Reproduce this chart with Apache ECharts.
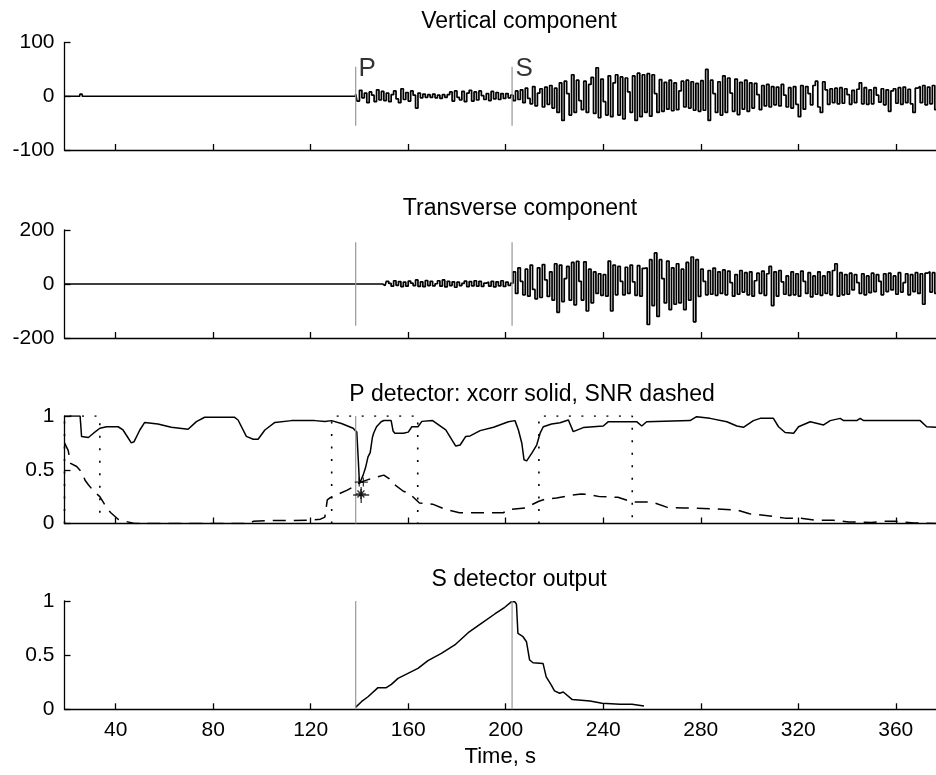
<!DOCTYPE html>
<html><head><meta charset="utf-8">
<script src="https://cdn.jsdelivr.net/npm/echarts/dist/echarts.min.js"></script>
<style>html,body{margin:0;padding:0;background:#fff}#c{width:936px;height:775px}</style>
</head><body><div id="c"></div>
<script>
// ---------- shared axis values ----------
const timeMin = 19, timeMax = 376.5;
const xTickValues = [40, 80, 120, 160, 200, 240, 280, 320, 360];
const pPickTime = 138.45, sPickTime = 202.6;

// ---------- seismogram samples (1 s) ----------
const waveStart = 138.5, waveStep = 1.0;
const vertQuietTimes = [19, 25.2, 25.5, 26.2, 26.5, 138.4];
const vertQuietValues = [0, 0, 4, 4, 0, 0];
const vertValues = [
  4, -9, 11, -3, 6, -12, 8, 2, -10, 12,
  -7, 9, -8, 6, -10, 3, 10, -5, -12, 14,
  -6, 7, -9, 10, 2, -22, 6, -3, 4, -2,
  3, -2, 4, -3, 2, -4, 3, -2, 3, 8,
  -9, 10, -2, -7, 9, -10, 6, 11, -9, 8,
  -7, 10, 1, -6, 5, -8, 9, -5, 7, -6,
  5, -4, 5, -3, 2, -8, 10, -6, 12, -12,
  15, -4, -14, 18, -18, 6, 14, -20, 17, -15,
  20, -22, 15, -30, 25, -45, 28, 5, -35, 40,
  -30, 30, -8, -25, 28, -30, 22, 35, -32, 53,
  -40, 32, -10, -35, 38, -38, 25, 40, -35, 36,
  -42, 34, 8, -30, 38, -45, 43, -38, 40, -30,
  42, -37, 40, 5, -30, 31, -28, 26, -24, 30,
  -27, 25, -25, 10, 28, -20, 30, -22, 27, -26,
  24, -28, 29, -26, 50, -45, 30, 5, -30, 27,
  -35, 38, -30, 34, 6, -28, 32, -34, 26, -24,
  30, -28, 25, -22, 24, 3, -25, 20, -18, 22,
  -20, 18, -16, 17, -18, 22, 2, -20, 16, -22,
  18, -15, -38, 20, -24, 18, 5, -16, 20, 28,
  -20, -30, 27, 12, -15, 14, -12, 15, -14, 16,
  -13, 14, 3, -15, 11, -12, 13, 25, -14, 16,
  -15, 12, -14, 16, 2, -11, 14, -16, 12, -28,
  10, 14, -13, 16, -15, 17, -12, 13, -14, -30,
  15, 18, -12, 20, -16, 17, -14, 20, -25
];
const transQuietTimes = [19, 138.4];
const transQuietValues = [0, 0];
const transValues = [
  0, 0, 0, 0, 0, 0, 0, 0, 0, 0,
  0, 0, -6, 10, 2, -8, 12, -5, 9, -10,
  7, -8, 11, 3, -6, 15, -9, 8, -10, 13,
  -6, 10, -7, 1, 12, -8, 15, -11, 10, -6,
  8, -12, 7, -6, 2, 11, -10, 9, -7, 12,
  -8, 10, -9, 3, 7, -8, 10, -11, 8, -7,
  12, -9, 7, -5, 3, 45, -35, 60, 10, -40,
  55, -45, 70, -20, -55, 60, -50, 72, 15, -46,
  45, -60, 75, -105, 70, -65, 20, 65, -60, 80,
  -77, 84, 10, -60, 82, -100, 55, -70, 45, -35,
  38, -42, 35, -45, 85, -100, 70, -40, 65, 10,
  -40, 62, -35, 70, 8, -42, 68, -45, 58, 60,
  -150, 90, -80, 115, -120, 90, 20, -70, 85, -95,
  60, -75, 75, -70, 55, -95, 80, -60, 100, -140,
  90, -46, 55, 10, -40, 50, -38, 59, -42, 45,
  -35, 52, -40, 48, 5, -45, 35, -38, 50, -30,
  42, -40, 45, -45, 12, 40, -35, 48, -42, 38,
  65, -80, 45, -45, 50, 8, -38, 30, -42, 45,
  -40, 38, -45, 48, 10, -35, 42, -48, 30, -38,
  45, -42, 30, -35, 45, -40, 50, 75, -45, 42,
  -40, 35, -38, 40, -22, 35, 5, -35, 38, -40,
  30, -32, 40, -28, 35, 10, -40, 38, -28, 40,
  -22, 30, -38, 42, -30, 5, 38, -40, 35, -28,
  42, -35, 38, -75, 40, 45, -30, 42, -35
];

// ---------- P detector ----------
const xcorrTimes = [19, 25.4, 26, 28.8, 30.9, 33.5, 36.3, 41, 43, 45, 46.4, 47.5, 49.9, 51.9, 57.3, 62.8, 69.7, 73.1, 76.5, 88.8, 90.2, 93.6, 96.4, 98.4, 101.2, 105.3, 112.1, 121.7, 125.8, 128.5, 132.6, 137.4, 138.9, 139.5, 140.0, 140.8, 141.5, 142.5, 143.5, 144.4, 145.3, 145.8, 147, 148.9, 150, 153, 153.8, 154.5, 158, 160, 161.5, 164, 165.6, 170, 175.4, 179.5, 181.3, 183.6, 185.4, 189.5, 195, 201.1, 203.8, 205.2, 206.6, 207.5, 208.6, 210.7, 212.7, 214.1, 215.4, 218.8, 222.3, 225.7, 227.7, 231.8, 240, 242.1, 253.7, 255.8, 257.8, 275.6, 278.3, 283.8, 290.7, 294.8, 297.5, 301.6, 304.4, 309.8, 311.9, 314.6, 318.1, 320.1, 324.9, 330.4, 333.1, 337.2, 338.6, 344, 345.4, 346.8, 370, 372.7, 376.5];
const xcorrValues = [1.0, 1.0, 0.81, 0.80, 0.84, 0.886, 0.90, 0.90, 0.87, 0.80, 0.75, 0.76, 0.87, 0.94, 0.926, 0.895, 0.877, 0.948, 0.988, 0.988, 0.963, 0.81, 0.784, 0.784, 0.87, 0.94, 0.957, 0.957, 0.948, 0.957, 0.93, 0.886, 0.85, 0.60, 0.37, 0.36, 0.45, 0.52, 0.62, 0.66, 0.80, 0.84, 0.90, 0.947, 0.958, 0.958, 0.86, 0.84, 0.84, 0.85, 0.90, 0.90, 0.95, 0.957, 0.87, 0.72, 0.73, 0.81, 0.815, 0.864, 0.895, 0.947, 0.957, 0.87, 0.747, 0.593, 0.583, 0.654, 0.73, 0.84, 0.90, 0.926, 0.938, 0.963, 0.855, 0.892, 0.907, 0.947, 0.947, 0.907, 0.947, 0.957, 0.994, 0.978, 0.947, 0.907, 0.895, 0.957, 0.978, 0.978, 0.90, 0.846, 0.84, 0.90, 0.947, 0.917, 0.957, 0.978, 0.957, 0.957, 0.978, 0.957, 0.957, 0.90, 0.895];
const snrTimes = [19, 20.5, 21.5, 24, 26, 27.5, 28.8, 31, 33.5, 36.3, 38, 41, 44, 47.7, 56, 95, 96.4, 104, 112, 119, 124, 125.8, 126.8, 128, 131, 135, 138, 140, 145, 150, 152, 154.5, 158, 160.5, 164.6, 170, 175.4, 181, 199, 201, 208, 213.6, 216, 220.8, 226.2, 231, 234, 238.5, 246, 251.9, 260, 266.3, 273, 286.8, 295, 300, 308.4, 314.6, 320.8, 326.9, 334.5, 340.7, 350, 355, 360, 367.7, 376.5];
const snrValues = [0.75, 0.68, 0.56, 0.53, 0.48, 0.40, 0.36, 0.30, 0.25, 0.145, 0.10, 0.04, 0.02, 0.0, 0.0, 0.0, 0.02, 0.028, 0.028, 0.03, 0.04, 0.06, 0.22, 0.24, 0.27, 0.31, 0.35, 0.38, 0.42, 0.45, 0.42, 0.36, 0.30, 0.28, 0.19, 0.18, 0.13, 0.10, 0.10, 0.13, 0.145, 0.207, 0.225, 0.238, 0.26, 0.275, 0.27, 0.25, 0.244, 0.20, 0.20, 0.15, 0.145, 0.136, 0.125, 0.09, 0.07, 0.05, 0.05, 0.03, 0.03, 0.015, 0.01, 0.02, 0.02, 0.005, 0.0];
const windowStarts = [19, 128.6, 213.6];
const windowEnds = [33.5, 163.9, 251.9];
const plusTimes = [139.9, 141.6, 140.7];
const plusValues = [0.385, 0.385, 0.265];
const starTimes = [140.6];
const starValues = [0.275];

// ---------- S detector ----------
const sDetTimes = [138.5, 140.8, 143.5, 147.6, 151, 153.1, 155.8, 159.9, 164, 168.1, 173.6, 179.1, 184.6, 190, 195.5, 199.6, 202.4, 203.7, 204.4, 205, 207.1, 208.5, 209.8, 211.2, 215.3, 216.6, 218.7, 220, 222.1, 223.6, 227.3, 234.6, 239.5, 246.9, 251.8, 256.7];
const sDetValues = [0.02, 0.07, 0.116, 0.20, 0.20, 0.23, 0.286, 0.332, 0.378, 0.449, 0.517, 0.594, 0.707, 0.794, 0.88, 0.942, 0.994, 0.994, 0.97, 0.70, 0.67, 0.624, 0.455, 0.43, 0.424, 0.30, 0.224, 0.17, 0.148, 0.16, 0.09, 0.077, 0.055, 0.046, 0.046, 0.03];

// ---------- labels ----------
const panelTitles = ['Vertical component', 'Transverse component', 'P detector: xcorr solid, SNR dashed', 'S detector output'];
const yMins = [-100, -200, 0, 0];
const yMaxs = [100, 200, 1, 1];
const yIntervals = [100, 200, 0.5, 0.5];
const pickHalfHeights = [55, 155];
const xAxisTitle = 'Time, s';

// ---------- build ----------
const FONT = 'Liberation Sans, Arial, sans-serif';
const pair = (ts, vs) => ts.map((t, i) => [t, vs[i]]);
const sampled = (vs) => vs.map((v, i) => [waveStart + i * waveStep, v]);

const gridTops = [42.5, 230, 416, 601];
const gridHeights = [107.5, 108, 107.5, 108.3];
const titleTops = [5, 192, 378, 563];
const titleCenters = [514, 515, 527, 514];

const grids = gridTops.map((t, i) => ({ left: 64.5, right: 0, top: t, height: gridHeights[i] }));
const xAxes = grids.map((g, i) => ({
  type: 'value', gridIndex: i, min: timeMin, max: timeMax,
  axisLine: { show: true, onZero: false, lineStyle: { color: '#000', width: 1.3 } },
  axisTick: { show: true, inside: true, length: 6, customValues: xTickValues, lineStyle: { color: '#000', width: 1.3 } },
  axisLabel: { show: i === 3, customValues: xTickValues, margin: 10, color: '#000', fontSize: 21, fontFamily: FONT },
  splitLine: { show: false },
  name: i === 3 ? xAxisTitle : '', nameLocation: 'middle', nameGap: 37,
  nameTextStyle: { color: '#000', fontSize: 22, fontFamily: FONT }
}));
const yAxes = grids.map((g, i) => ({
  type: 'value', gridIndex: i, min: yMins[i], max: yMaxs[i], interval: yIntervals[i],
  axisLine: { show: true, onZero: false, lineStyle: { color: '#000', width: 1.3 } },
  axisTick: { show: true, inside: true, length: 6, lineStyle: { color: '#000', width: 1.3 } },
  axisLabel: { margin: 10, color: '#000', fontSize: 21, fontFamily: FONT },
  splitLine: { show: false }
}));

const blackLine = (w) => ({ color: '#000', width: w });
const series = [];
// Vertical component
series.push({ type: 'line', xAxisIndex: 0, yAxisIndex: 0, showSymbol: false, symbol: 'none', step: 'middle',
  lineStyle: blackLine(1.7), data: pair(vertQuietTimes, vertQuietValues).concat(sampled(vertValues)) });
// Transverse component
series.push({ type: 'line', xAxisIndex: 1, yAxisIndex: 1, showSymbol: false, symbol: 'none', step: 'middle',
  lineStyle: blackLine(1.7), data: pair(transQuietTimes, transQuietValues).concat(sampled(transValues)) });
// P and S pick lines in panels 1 and 2
[0, 1].forEach(k => {
  [pPickTime, sPickTime].forEach(t => {
    series.push({ type: 'line', xAxisIndex: k, yAxisIndex: k, symbol: 'none', z: 5,
      lineStyle: { color: '#999', width: 1.2 }, data: [[t, -pickHalfHeights[k]], [t, pickHalfHeights[k]]] });
  });
});
// P / S text labels
series.push({ type: 'scatter', xAxisIndex: 0, yAxisIndex: 0, symbolSize: 0, z: 6,
  label: { show: true, position: 'right', distance: 0, color: '#000', fontSize: 26, fontFamily: FONT, formatter: p => p.name },
  data: [{ name: 'P', value: [139.6, 51] }, { name: 'S', value: [204.0, 51] }] });
// P detector
series.push({ type: 'line', xAxisIndex: 2, yAxisIndex: 2, symbol: 'none', lineStyle: blackLine(1.5), data: pair(xcorrTimes, xcorrValues) });
series.push({ type: 'line', xAxisIndex: 2, yAxisIndex: 2, symbol: 'none',
  lineStyle: { color: '#000', width: 1.5, type: [13, 8] }, data: pair(snrTimes, snrValues) });
windowStarts.forEach((s, i) => {
  series.push({ type: 'line', xAxisIndex: 2, yAxisIndex: 2, symbol: 'none',
    lineStyle: { color: '#000', width: 1.6, type: [2, 10.5] },
    data: [[s, 0], [s, 1], [windowEnds[i], 1], [windowEnds[i], 0]] });
});
series.push({ type: 'line', xAxisIndex: 2, yAxisIndex: 2, symbol: 'none', z: 5,
  lineStyle: { color: '#999', width: 1.2 }, data: [[pPickTime, 0], [pPickTime, 1]] });
series.push({ type: 'scatter', xAxisIndex: 2, yAxisIndex: 2, z: 6,
  symbol: 'path://M0,5L10,5M5,0L5,10', symbolSize: (v, p) => (p.dataIndex === 2 ? 16 : 9),
  itemStyle: { color: 'transparent', borderColor: '#000', borderWidth: 1.3 },
  data: pair(plusTimes, plusValues) });
series.push({ type: 'scatter', xAxisIndex: 2, yAxisIndex: 2, z: 6,
  symbol: 'path://M5,0L5,10M0,5L10,5M1.5,1.5L8.5,8.5M8.5,1.5L1.5,8.5', symbolSize: 10,
  itemStyle: { color: 'transparent', borderColor: '#000', borderWidth: 1.3 },
  data: pair(starTimes, starValues) });
// S detector
series.push({ type: 'line', xAxisIndex: 3, yAxisIndex: 3, symbol: 'none', lineStyle: blackLine(1.5), data: pair(sDetTimes, sDetValues) });
[pPickTime, sPickTime].forEach(t => {
  series.push({ type: 'line', xAxisIndex: 3, yAxisIndex: 3, symbol: 'none', z: 5,
    lineStyle: { color: '#999', width: 1.2 }, data: [[t, 0], [t, 1]] });
});

const chart = echarts.init(document.getElementById('c'), null, { renderer: 'canvas' });
chart.setOption({
  animation: false,
  backgroundColor: '#fff',
  title: panelTitles.map((t, i) => ({ text: t, left: titleCenters[i], top: titleTops[i], textAlign: 'center',
    textStyle: { color: '#000', fontSize: 23, fontWeight: 'normal', fontFamily: FONT } })),
  grid: grids, xAxis: xAxes, yAxis: yAxes, series: series
});
</script></body></html>
